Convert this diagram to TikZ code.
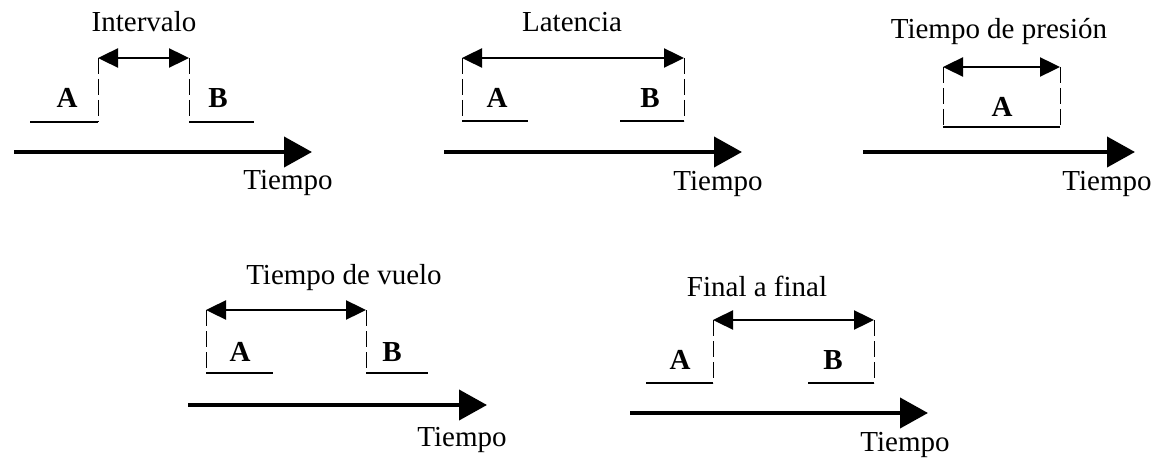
\documentclass[tikz,border=0pt]{standalone}
\usepackage{fontspec}
\setmainfont{Liberation Serif}
\usepackage{tikz}
\usetikzlibrary{arrows.meta}

\begin{document}
\begin{tikzpicture}[
 x=0.5pt, y=-0.5pt,
 title/.style={inner sep=0pt, font=\fontsize{14.5}{17}\selectfont},
 key/.style={inner sep=0pt, font=\fontsize{14.5}{17}\selectfont\bfseries},
 span/.style={{Triangle[length=10pt,width=9.5pt]}-{Triangle[length=10pt,width=9.5pt]}, line width=1.2pt},
 guide/.style={dash pattern=on 8pt off 2.5pt, line width=0.5pt},
 level/.style={line width=0.6pt},
 axis/.style={-{Triangle[length=14pt,width=15pt]}, line width=2pt}
]
\useasboundingbox (0,0) rectangle (1157,460);

% Intervalo
\coordinate (intL) at (98,58);
\coordinate (intR) at (189,58);
\coordinate (intLb) at (98,122);
\coordinate (intRb) at (189,122);
\coordinate (intA) at (30,122);
\coordinate (intB) at (254,122);
\coordinate (intS) at (14,152);
\coordinate (intE) at (312,152);
\node[title] (intT) at (144,22) {Intervalo};
\node[key] (intKA) at (67,98) {A};
\node[key] (intKB) at (218,98) {B};
\node[title] (intTime) at (288,183) {Tiempo};
\draw[span] (intL) -- (intR);
\draw[guide] (intL) -- (intLb);
\draw[guide] (intR) -- (intRb);
\draw[level] (intA) -- (intLb);
\draw[level] (intRb) -- (intB);
\draw[axis] (intS) -- (intE);

% Latencia
\coordinate (latL) at (462,58);
\coordinate (latR) at (684,58);
\coordinate (latLb) at (462,121);
\coordinate (latRb) at (684,121);
\coordinate (latA) at (528,121);
\coordinate (latB) at (620,121);
\coordinate (latS) at (444,152);
\coordinate (latE) at (742,152);
\node[title] (latT) at (572,22) {Latencia};
\node[key] (latKA) at (497,98) {A};
\node[key] (latKB) at (650,98) {B};
\node[title] (latTime) at (718,184) {Tiempo};
\draw[span] (latL) -- (latR);
\draw[guide] (latL) -- (latLb);
\draw[guide] (latR) -- (latRb);
\draw[level] (latLb) -- (latA);
\draw[level] (latB) -- (latRb);
\draw[axis] (latS) -- (latE);

% Tiempo de presion
\coordinate (preL) at (943,67);
\coordinate (preR) at (1060,67);
\coordinate (preLb) at (943,127);
\coordinate (preRb) at (1060,127);
\coordinate (preS) at (863,152);
\coordinate (preE) at (1135,152);
\node[title] (preT) at (999,32) {Tiempo de presión};
\node[key] (preKA) at (1002,107) {A};
\node[title] (preTime) at (1107,184) {Tiempo};
\draw[span] (preL) -- (preR);
\draw[guide] (preL) -- (preLb);
\draw[guide] (preR) -- (preRb);
\draw[level] (preLb) -- (preRb);
\draw[axis] (preS) -- (preE);

% Tiempo de vuelo
\coordinate (vueL) at (206,310);
\coordinate (vueR) at (366,310);
\coordinate (vueLb) at (206,373);
\coordinate (vueRb) at (366,373);
\coordinate (vueA) at (273,373);
\coordinate (vueB) at (428,373);
\coordinate (vueS) at (188,405);
\coordinate (vueE) at (487,405);
\node[title] (vueT) at (344,278) {Tiempo de vuelo};
\node[key] (vueKA) at (240,352) {A};
\node[key] (vueKB) at (392,352) {B};
\node[title] (vueTime) at (462,440) {Tiempo};
\draw[span] (vueL) -- (vueR);
\draw[guide] (vueL) -- (vueLb);
\draw[guide] (vueR) -- (vueRb);
\draw[level] (vueLb) -- (vueA);
\draw[level] (vueRb) -- (vueB);
\draw[axis] (vueS) -- (vueE);

% Final a final
\coordinate (finL) at (713,320);
\coordinate (finR) at (874,320);
\coordinate (finLb) at (713,383);
\coordinate (finRb) at (874,383);
\coordinate (finA) at (646,383);
\coordinate (finB) at (808,383);
\coordinate (finS) at (630,413);
\coordinate (finE) at (928,413);
\node[title] (finT) at (757,286) {Final a final};
\node[key] (finKA) at (680,360) {A};
\node[key] (finKB) at (833,360) {B};
\node[title] (finTime) at (905,445) {Tiempo};
\draw[span] (finL) -- (finR);
\draw[guide] (finL) -- (finLb);
\draw[guide] (finR) -- (finRb);
\draw[level] (finA) -- (finLb);
\draw[level] (finB) -- (finRb);
\draw[axis] (finS) -- (finE);
\end{tikzpicture}
\end{document}
